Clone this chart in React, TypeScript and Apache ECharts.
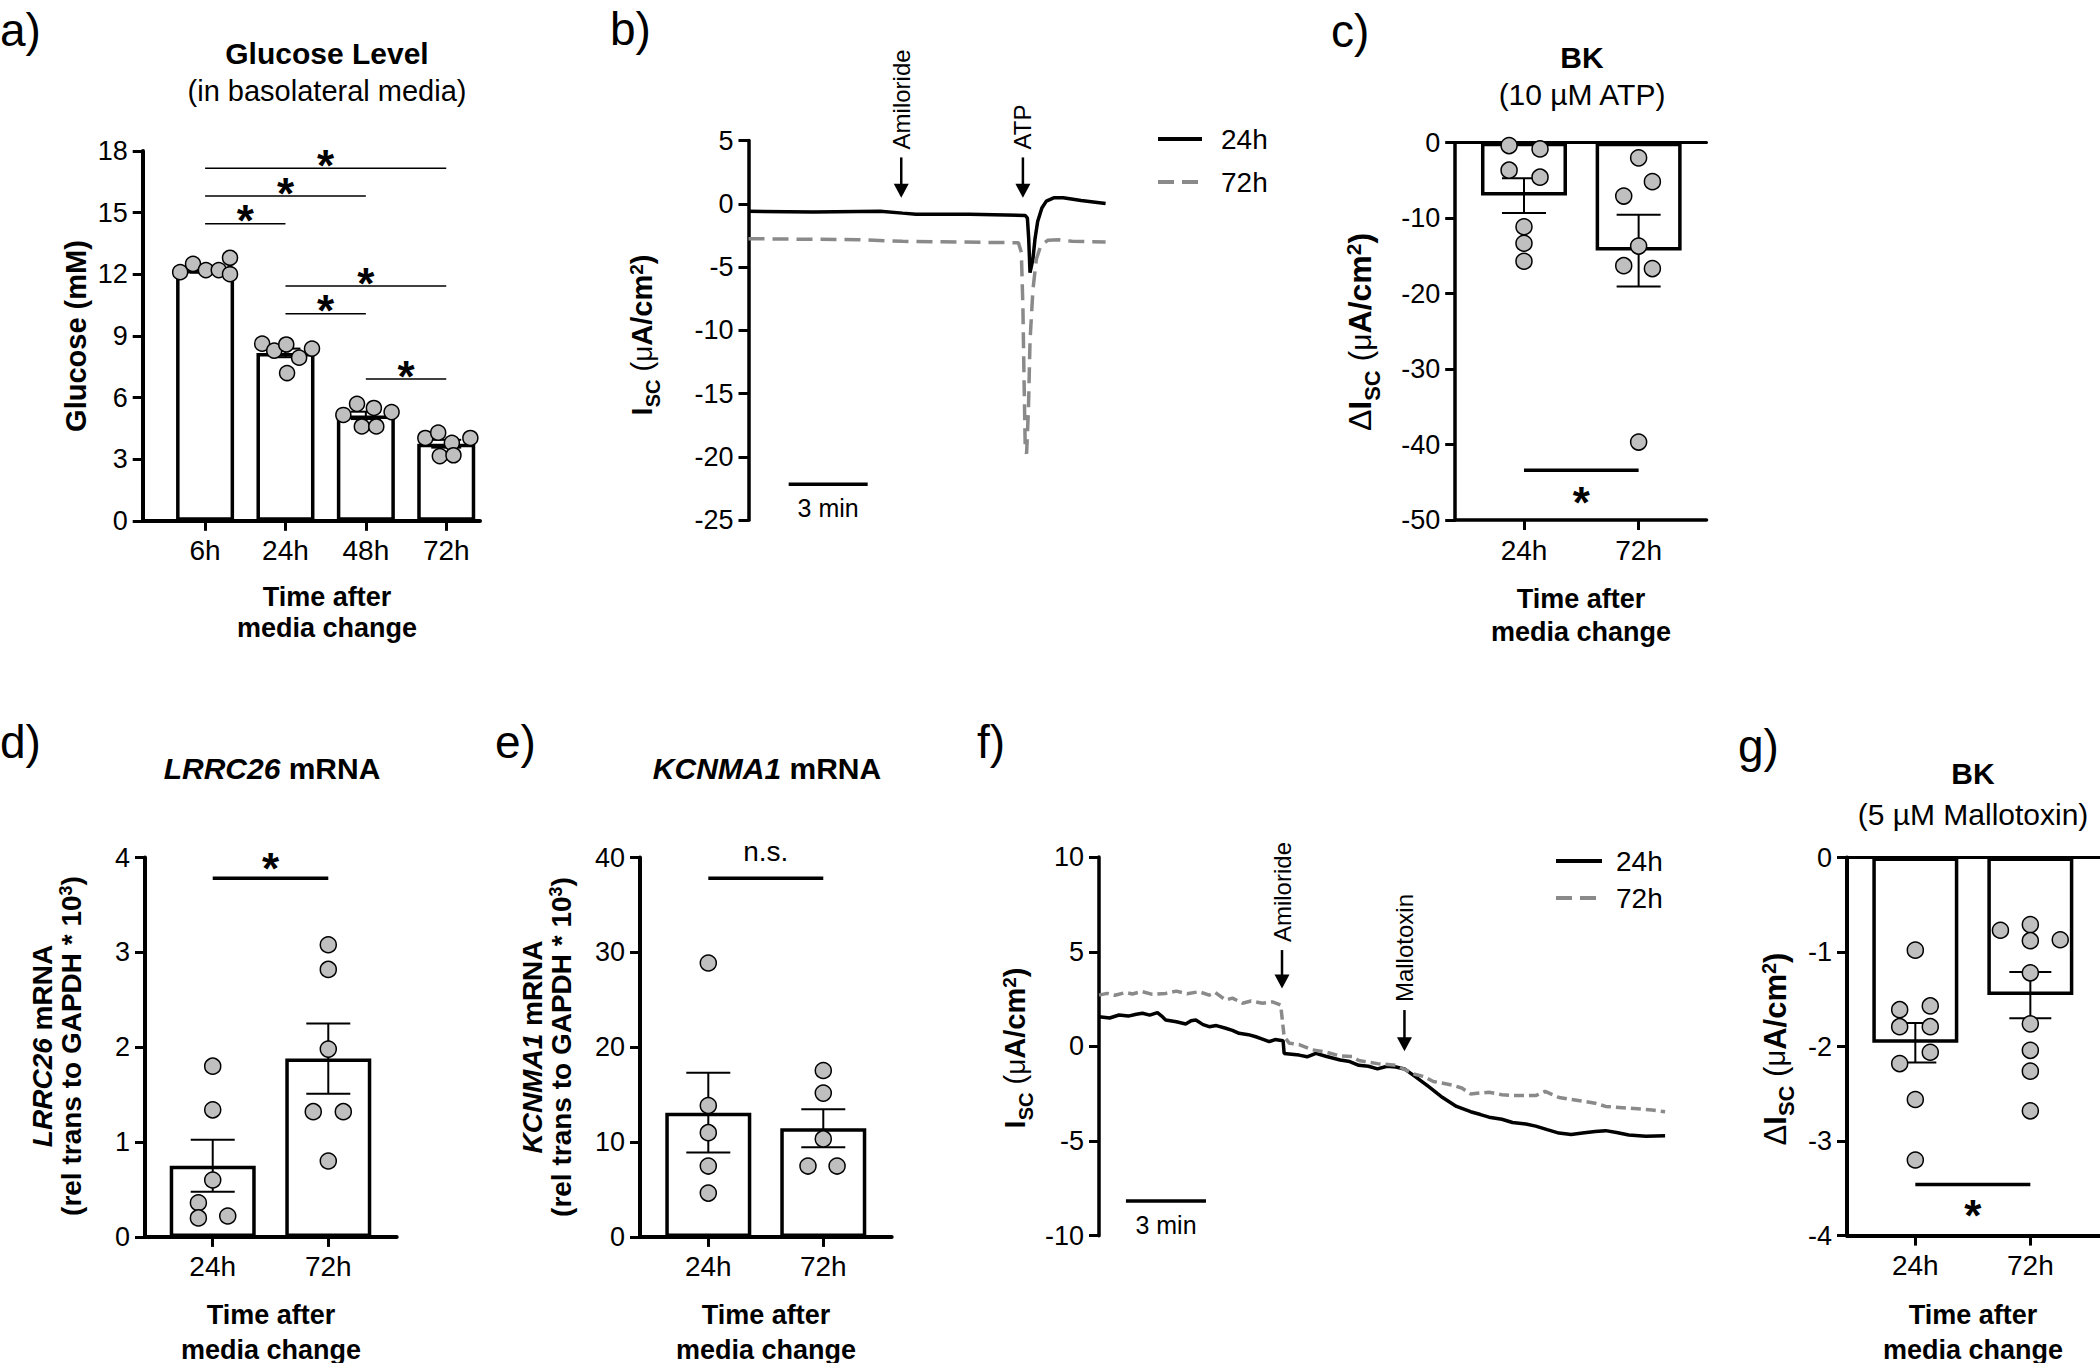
import React, { useEffect, useRef } from 'react';
import * as echarts from 'echarts';

const FONT = '"Liberation Sans", Arial, Helvetica, sans-serif';
const BLACK = '#000';
const DOT = '#bfbfbf';
const GRAY_LINE = '#8a8a8a';

// ---------------- data ----------------
// a) Glucose level
const glucoseCats = ['6h', '24h', '48h', '72h'];
const glucoseMean = [12.2, 8.17, 5.13, 3.75];
const glucoseSem = [0.12, 0.21, 0.18, 0.19];
const glucoseDots = [
  [-0.31, 12.1], [-0.15, 12.5], [0.01, 12.2], [0.17, 12.2], [0.31, 12.8], [0.31, 12.0],
  [0.71, 8.62], [0.86, 8.28], [1.01, 8.58], [1.02, 7.19], [1.17, 7.94], [1.33, 8.38],
  [1.72, 5.15], [1.89, 5.69], [1.95, 4.59], [2.1, 5.49], [2.13, 4.59], [2.32, 5.29],
  [2.74, 4.03], [2.9, 4.29], [2.92, 3.15], [3.07, 3.79], [3.09, 3.19], [3.3, 4.03],
];
const glucoseSig = [
  [0, 3, 17.16, '*'], [0, 2, 15.8, '*'], [0, 1, 14.45, '*'],
  [1, 3, 11.42, '*'], [1, 2, 10.08, '*'], [2, 3, 6.9, '*'],
];

// b) ATP traces (minutes, uA/cm2)
const atpTrace24 = [
  [0, -0.59], [2.46, -0.65], [5.0, -0.59], [5.85, -0.73], [6.36, -0.81], [8.39, -0.81],
  [10.51, -0.92], [10.59, -1.13], [10.64, -2.75], [10.69, -5.44], [10.8, -4.37], [10.88, -2.75],
  [10.98, -1.4], [11.14, -0.32], [11.31, 0.22], [11.61, 0.49], [11.95, 0.49], [12.63, 0.27], [13.56, 0.03],
];
const atpTrace72 = [
  [0, -2.75], [4.15, -2.83], [5.85, -2.96], [10.25, -3.07], [10.36, -3.83], [10.42, -8.14],
  [10.46, -13.53], [10.51, -19.46], [10.56, -19.73], [10.63, -16.23], [10.69, -10.84], [10.8, -6.79],
  [10.93, -4.37], [11.1, -3.29], [11.36, -2.88], [11.78, -2.83], [12.29, -2.96], [13.56, -3.02],
];
const atpArrows = [[5.8, 3.67, 0.48, 'Amiloride'], [10.42, 3.67, 0.48, 'ATP']];
const atpScale = [[1.525, 4.525, -22.16, '3 min']];

// c) BK (10 uM ATP)
const bkAtpCats = ['24h', '72h'];
const bkAtpMean = [-7.0, -14.3];
const bkAtpSem = [2.3, 4.75];
const bkAtpDots = [
  [-0.13, -0.38], [0.14, -0.82], [-0.13, -3.64], [0.14, -4.57], [0, -11.14], [0, -13.32], [0, -15.71],
  [1, -2.01], [1.12, -5.16], [0.87, -7.07], [1, -13.7], [0.87, -16.3], [1.12, -16.68], [1, -39.67],
];
const bkAtpSig = [[0, 1, -43.4, '*']];

// d) LRRC26 mRNA
const lrrcCats = ['24h', '72h'];
const lrrcMean = [0.75, 1.88];
const lrrcSem = [0.275, 0.37];
const lrrcDots = [
  [0, 1.8], [0, 1.34], [0, 0.6], [-0.124, 0.36], [-0.124, 0.2], [0.13, 0.22],
  [1, 3.08], [1, 2.82], [1, 1.98], [0.87, 1.32], [1.13, 1.32], [1, 0.8],
];
const lrrcSig = [[0, 1, 3.78, '*']];

// e) KCNMA1 mRNA
const kcnCats = ['24h', '72h'];
const kcnMean = [13.1, 11.45];
const kcnSem = [4.2, 2.0];
const kcnDots = [
  [0, 28.88], [0, 13.85], [0, 10.99], [0, 7.47], [0, 4.62],
  [1, 17.54], [1, 15.16], [1, 10.33], [0.867, 7.47], [1.12, 7.47],
];
const kcnSig = [[0, 1, 37.8, 'n.s.']];

// f) Mallotoxin traces
const malTrace24 = [
  [0, 1.57], [0.4, 1.5], [0.75, 1.66], [1.1, 1.6], [1.4, 1.7], [1.63, 1.75], [1.9, 1.65], [2.19, 1.78],
  [2.35, 1.6], [2.5, 1.39], [2.9, 1.3], [3.25, 1.18], [3.45, 1.35], [3.63, 1.39], [3.9, 1.15],
  [4.13, 1.04], [4.4, 1.1], [4.75, 0.96], [5.0, 0.85], [5.25, 0.69], [5.6, 0.62], [5.88, 0.51],
  [6.1, 0.4], [6.38, 0.25], [6.6, 0.36], [6.9, 0.3], [6.94, -0.37], [7.5, -0.46], [7.8, -0.55],
  [8.13, -0.37], [8.5, -0.52], [9.04, -0.72], [9.4, -0.8], [9.74, -1.0], [10.1, -1.05], [10.44, -1.19],
  [10.8, -1.05], [11.13, -1.09], [11.45, -1.19], [11.83, -1.57], [12.36, -2.13], [12.88, -2.7],
  [13.4, -3.17], [13.93, -3.45], [14.3, -3.6], [14.62, -3.74], [15.1, -3.85], [15.5, -4.02],
  [16.0, -4.1], [16.37, -4.21], [16.8, -4.4], [17.24, -4.58], [17.7, -4.65], [18.12, -4.58],
  [18.6, -4.5], [18.99, -4.45], [19.4, -4.55], [19.86, -4.68], [20.5, -4.75], [21.22, -4.72],
];
const malTrace72 = [
  [0, 2.71], [0.3, 2.8], [0.6, 2.7], [1.0, 2.85], [1.25, 2.77], [1.6, 2.9], [2.0, 2.75], [2.5, 2.8],
  [2.9, 2.92], [3.3, 2.78], [3.75, 2.89], [4.13, 2.71], [4.35, 2.85], [4.75, 2.45], [5.0, 2.55],
  [5.38, 2.28], [5.7, 2.4], [6.13, 2.28], [6.5, 2.35], [6.81, 2.19], [6.94, 0.52], [7.13, 0.17],
  [7.5, 0.1], [8.0, -0.18], [8.5, -0.3], [9.04, -0.5], [9.5, -0.53], [9.74, -0.75], [10.44, -0.91],
  [11.13, -1.0], [11.83, -1.47], [12.2, -1.6], [12.53, -1.85], [13.23, -2.04], [13.6, -2.2],
  [13.93, -2.51], [14.62, -2.42], [15.1, -2.55], [15.5, -2.6], [16.37, -2.6], [16.72, -2.38],
  [17.24, -2.7], [18.12, -2.89], [18.6, -3.0], [18.99, -3.17], [19.86, -3.26], [20.73, -3.36], [21.22, -3.45],
];
const malArrows = [[6.86, 5.09, 3.06, 'Amiloride'], [11.45, 1.92, -0.25, 'Mallotoxin']];
const malScale = [[1.01, 4.01, -8.17, '3 min']];

// g) BK (5 uM Mallotoxin)
const bkMalCats = ['24h', '72h'];
const bkMalMean = [-1.96, -1.455];
const bkMalSem = [0.21, 0.245];
const bkMalDots = [
  [0, -0.98], [-0.136, -1.61], [0.13, -1.57], [-0.136, -1.79], [0.13, -1.79], [0.13, -2.06],
  [-0.136, -2.18], [0, -2.56], [0, -3.2],
  [0.74, -0.77], [1, -0.71], [1, -0.88], [1.26, -0.87], [1, -1.22], [1, -1.76], [1, -2.04],
  [1, -2.26], [1, -2.68],
];
const bkMalSig = [[0, 1, -3.46, '*']];

// ---------------- helpers ----------------
function catX(gi: number, cats: string[], min: number, max: number, lw: number): any {
  const vals = cats.map((_, i) => i);
  return {
    type: 'value', gridIndex: gi, min, max, position: 'bottom',
    axisLine: { show: true, onZero: false, lineStyle: { color: BLACK, width: lw } },
    axisTick: { show: true, customValues: vals, length: 10, lineStyle: { color: BLACK, width: 3 } },
    axisLabel: {
      show: true, customValues: vals, color: BLACK, fontSize: 28, fontFamily: FONT, margin: 16,
      formatter: (v: number) => (cats[Math.round(v)] ?? ''),
    },
    splitLine: { show: false },
  };
}
function topX(gi: number, min: number, max: number): any {
  return {
    type: 'value', gridIndex: gi, min, max, position: 'top',
    axisLine: { show: true, onZero: false, lineStyle: { color: BLACK, width: 3 } },
    axisTick: { show: false }, axisLabel: { show: false }, splitLine: { show: false },
  };
}
function hiddenX(gi: number, min: number, max: number): any {
  return { type: 'value', gridIndex: gi, min, max, show: false, splitLine: { show: false } };
}
function valY(gi: number, min: number, max: number, interval: number, lw: number): any {
  return {
    type: 'value', gridIndex: gi, min, max, interval,
    axisLine: { show: true, onZero: false, lineStyle: { color: BLACK, width: lw } },
    axisTick: { show: true, length: 10, lineStyle: { color: BLACK, width: 3 } },
    axisLabel: { color: BLACK, fontSize: 27, fontFamily: FONT, margin: 15 },
    splitLine: { show: false },
  };
}
function barSeries(xi: number, yi: number, mean: number[], width: number): any {
  return {
    type: 'bar', xAxisIndex: xi, yAxisIndex: yi, z: 2, silent: true,
    data: mean.map((m, i) => [i, m]), barWidth: width,
    itemStyle: { color: '#fff', borderColor: BLACK, borderWidth: 3.5 },
  };
}
function dotSeries(xi: number, yi: number, pts: number[][], size: number): any {
  return {
    type: 'scatter', xAxisIndex: xi, yAxisIndex: yi, z: 4, silent: true, data: pts,
    symbolSize: size, itemStyle: { color: DOT, borderColor: BLACK, borderWidth: 1.5, opacity: 1 },
  };
}
function errorSeries(xi: number, yi: number, mean: number[], sem: number[], cap: number): any {
  return {
    type: 'custom', xAxisIndex: xi, yAxisIndex: yi, z: 3, silent: true,
    data: mean.map((m, i) => [i, m, sem[i]]),
    renderItem: (_p: any, api: any) => {
      const x = api.value(0), m = api.value(1), s = api.value(2);
      const hi = api.coord([x, m + s]);
      const lo = api.coord([x, m - s]);
      const st = { stroke: BLACK, lineWidth: 2 };
      return {
        type: 'group', children: [
          { type: 'line', shape: { x1: hi[0], y1: hi[1], x2: lo[0], y2: lo[1] }, style: st },
          { type: 'line', shape: { x1: hi[0] - cap / 2, y1: hi[1], x2: hi[0] + cap / 2, y2: hi[1] }, style: st },
          { type: 'line', shape: { x1: lo[0] - cap / 2, y1: lo[1], x2: lo[0] + cap / 2, y2: lo[1] }, style: st },
        ],
      };
    },
  };
}
function txtStyle(t: string, size: number, weight: string, align: string, extra: any = {}) {
  return {
    text: t, fill: BLACK, fontFamily: FONT, fontSize: size, fontWeight: weight,
    textAlign: align, align, textVerticalAlign: 'middle', verticalAlign: 'middle', ...extra,
  };
}
function sigSeries(xi: number, yi: number, items: any[], lw: number, dy: number): any {
  return {
    type: 'custom', xAxisIndex: xi, yAxisIndex: yi, z: 5, silent: true,
    data: items.map((it) => [it[0], it[2], it[1]]),
    renderItem: (params: any, api: any) => {
      const it = items[params.dataIndex];
      const a = api.coord([it[0], it[2]]);
      const b = api.coord([it[1], it[2]]);
      const star = it[3] === '*';
      return {
        type: 'group', children: [
          { type: 'line', shape: { x1: a[0], y1: a[1], x2: b[0], y2: b[1] }, style: { stroke: BLACK, lineWidth: lw } },
          {
            type: 'text', x: (a[0] + b[0]) / 2, y: a[1] + dy,
            style: txtStyle(it[3], star ? 44 : 28, star ? 'bold' : 'normal', 'center'),
          },
        ],
      };
    },
  };
}
function arrowSeries(xi: number, yi: number, items: any[]): any {
  return {
    type: 'custom', xAxisIndex: xi, yAxisIndex: yi, z: 5, silent: true,
    data: items.map((it) => [it[0], it[1], it[2]]),
    renderItem: (params: any, api: any) => {
      const it = items[params.dataIndex];
      const top = api.coord([it[0], it[1]]);
      const tip = api.coord([it[0], it[2]]);
      const hw = 7.5, hh = 14;
      return {
        type: 'group', children: [
          { type: 'line', shape: { x1: top[0], y1: top[1], x2: tip[0], y2: tip[1] - hh + 1 }, style: { stroke: BLACK, lineWidth: 2.5 } },
          { type: 'polygon', shape: { points: [[tip[0] - hw, tip[1] - hh], [tip[0] + hw, tip[1] - hh], [tip[0], tip[1]]] }, style: { fill: BLACK } },
          { type: 'text', x: top[0], y: top[1] - 8, rotation: Math.PI / 2, style: txtStyle(it[3], 24, 'normal', 'left') },
        ],
      };
    },
  };
}
function scaleSeries(xi: number, yi: number, items: any[]): any {
  return {
    type: 'custom', xAxisIndex: xi, yAxisIndex: yi, z: 5, silent: true,
    data: items.map((it) => [it[0], it[2], it[1]]),
    renderItem: (params: any, api: any) => {
      const it = items[params.dataIndex];
      const a = api.coord([it[0], it[2]]);
      const b = api.coord([it[1], it[2]]);
      return {
        type: 'group', children: [
          { type: 'line', shape: { x1: a[0], y1: a[1], x2: b[0], y2: b[1] }, style: { stroke: BLACK, lineWidth: 3.5 } },
          { type: 'text', x: (a[0] + b[0]) / 2, y: a[1] + 24, style: txtStyle(it[3], 25, 'normal', 'center') },
        ],
      };
    },
  };
}
function lineSeries(name: string, xi: number, yi: number, data: number[][], dash: number[]): any {
  const dashed = name === '72h';
  return {
    type: 'line', name, xAxisIndex: xi, yAxisIndex: yi, data, z: 3, silent: true,
    showSymbol: false, symbol: 'none',
    lineStyle: { color: dashed ? GRAY_LINE : BLACK, width: 3.5, type: dashed ? dash : 'solid' },
    itemStyle: { color: dashed ? GRAY_LINE : BLACK },
  };
}

// text helpers (graphic)
function T(t: string, x: number, y: number, size: number, weight: string, opt: any = {}): any {
  const align = opt.align || 'center';
  return {
    type: 'text', x, y, rotation: opt.rotation || 0, silent: true, z: 10,
    style: txtStyle(t, size, weight, align, opt.rich ? { rich: opt.rich } : {}),
  };
}
function tok(size: number, weight: string, extra: any = {}) {
  return { fontSize: size, fontWeight: weight, fontFamily: FONT, fill: BLACK, color: BLACK, ...extra };
}
function iscRich(base: number) {
  const lh = Math.round(base * 1.45);
  const mid = { verticalAlign: 'middle', lineHeight: lh };
  const sup = Math.round(base * 0.65);
  return {
    d: tok(base, 'normal', mid),
    i: tok(base, 'bold', mid),
    s: tok(Math.round(base * 0.7), 'bold', { verticalAlign: 'bottom', lineHeight: Math.round(base * 0.8) }),
    p: tok(base, 'normal', mid),
    m: tok(Math.round(base * 0.95), 'normal', mid),
    b: tok(base, 'bold', mid),
    u: tok(sup, 'bold', { verticalAlign: 'top', lineHeight: sup, padding: [Math.round(base * 0.2), 0, 0, 0] }),
  };
}
const iscText = (delta: boolean) => `${delta ? '{d|Δ}' : ''}{i|I}{s|SC}{p| (}{m|μ}{b|A/cm}{u|2}{b|)}`;
function geneRich(base: number, lh: number) {
  return {
    it: tok(base, 'bold', { fontStyle: 'italic', lineHeight: lh }),
    bb: tok(base, 'bold', { lineHeight: lh }),
    up: tok(Math.round(base * 0.65), 'bold', { verticalAlign: 'top', lineHeight: lh }),
  };
}
function xName(x: number, y: number, lh: number) {
  return {
    type: 'text', x, y, silent: true, z: 10,
    style: txtStyle('{n|Time after}\n{n|media change}', 27, 'bold', 'center', {
      rich: { n: tok(27, 'bold', { lineHeight: lh }) },
    }),
  };
}

const R90 = Math.PI / 2;
const graphics: any[] = [
  // panel letters
  T('a)', 0, 30, 46, 'normal', { align: 'left' }),
  T('b)', 610, 29, 46, 'normal', { align: 'left' }),
  T('c)', 1331, 31, 46, 'normal', { align: 'left' }),
  T('d)', 0, 742, 46, 'normal', { align: 'left' }),
  T('e)', 495, 742, 46, 'normal', { align: 'left' }),
  T('f)', 977, 742, 46, 'normal', { align: 'left' }),
  T('g)', 1738, 746, 46, 'normal', { align: 'left' }),
  // a
  T('Glucose Level', 327, 53, 30, 'bold'),
  T('(in basolateral media)', 327, 91, 29, 'normal'),
  T('Glucose (mM)', 76, 336, 29, 'bold', { rotation: R90 }),
  xName(327, 612, 31),
  // b
  T(iscText(false), 642, 335, 29, 'bold', { rotation: R90, rich: iscRich(29) }),
  // c
  T('BK', 1582, 57, 30, 'bold'),
  T('(10 µM ATP)', 1582, 94, 30, 'normal'),
  T(iscText(true), 1360, 332, 32, 'bold', { rotation: R90, rich: iscRich(32) }),
  xName(1581, 615, 33),
  // d
  T('{it|LRRC26}{bb| mRNA}', 272, 768, 30, 'bold', { rich: geneRich(30, 32) }),
  T('{it|LRRC26}{bb| mRNA}\n{bb|(rel trans to GAPDH * 10}{up|3}{bb|)}', 57, 1046, 28, 'bold', { rotation: R90, rich: geneRich(28, 29) }),
  xName(271, 1332, 35),
  // e
  T('{it|KCNMA1}{bb| mRNA}', 767, 768, 30, 'bold', { rich: geneRich(30, 32) }),
  T('{it|KCNMA1}{bb| mRNA}\n{bb|(rel trans to GAPDH * 10}{up|3}{bb|)}', 547, 1047, 28, 'bold', { rotation: R90, rich: geneRich(28, 29) }),
  xName(766, 1332, 35),
  // f
  T(iscText(false), 1015, 1048, 29, 'bold', { rotation: R90, rich: iscRich(29) }),
  // g
  T('BK', 1973, 773, 30, 'bold'),
  T('(5 µM Mallotoxin)', 1973, 814, 30, 'normal'),
  T(iscText(true), 1775, 1049, 31, 'bold', { rotation: R90, rich: iscRich(31) }),
  xName(1973, 1332, 35),
];

const legendText = { fontSize: 28, fontFamily: FONT, color: BLACK };
const legendHiddenSymbol = { opacity: 0, borderWidth: 0 };
const legendLine = { width: 4 };

const option: any = {
  animation: false,
  backgroundColor: '#fff',
  textStyle: { fontFamily: FONT, color: BLACK },
  grid: [
    { left: 142.7, top: 150.9, width: 337.3, height: 369.9 }, // a
    { left: 748.5, top: 140.6, width: 357.1, height: 379.7 }, // b
    { left: 1455.2, top: 142.7, width: 251.3, height: 377.3 }, // c
    { left: 145, top: 857.5, width: 251.7, height: 379.4 }, // d
    { left: 640, top: 857.5, width: 251.7, height: 379.4 }, // e
    { left: 1099, top: 857.1, width: 566.1, height: 378.6 }, // f
    { left: 1847, top: 857.5, width: 252.7, height: 378.1 }, // g
  ],
  xAxis: [
    catX(0, glucoseCats, -0.776, 3.42, 4), // 0 a
    hiddenX(1, 0, 13.56), // 1 b
    catX(2, bkAtpCats, -0.6, 1.592, 3.5), // 2 c
    topX(2, -0.6, 1.592), // 3 c top
    catX(3, lrrcCats, -0.586, 1.592, 4), // 4 d
    catX(4, kcnCats, -0.594, 1.595, 4), // 5 e
    hiddenX(5, 0, 21.22), // 6 f
    catX(6, bkMalCats, -0.594, 1.603, 4), // 7 g
    topX(6, -0.594, 1.603), // 8 g top
  ],
  yAxis: [
    valY(0, 0, 18, 3, 4),
    valY(1, -25, 5, 5, 3.5),
    valY(2, -50, 0, 10, 3.5),
    valY(3, 0, 4, 1, 4),
    valY(4, 0, 40, 10, 4),
    valY(5, -10, 10, 5, 3.5),
    valY(6, -4, 0, 1, 4),
  ],
  legend: [
    {
      data: ['24h', '72h'], orient: 'vertical', left: 1151, top: 120, itemWidth: 44, itemHeight: 14,
      itemGap: 15, selectedMode: false, itemStyle: legendHiddenSymbol, lineStyle: legendLine,
      textStyle: { ...legendText, padding: [0, 0, 0, 14] },
    },
    {
      data: ['24h', '72h'], orient: 'vertical', left: 1549, top: 842, itemWidth: 46, itemHeight: 14,
      itemGap: 9, selectedMode: false, itemStyle: legendHiddenSymbol, lineStyle: legendLine,
      textStyle: { ...legendText, padding: [0, 0, 0, 9] },
    },
  ],
  graphic: graphics,
  series: [
    // a
    barSeries(0, 0, glucoseMean, 58),
    errorSeries(0, 0, glucoseMean, glucoseSem, 30),
    dotSeries(0, 0, glucoseDots, 15),
    sigSeries(0, 0, glucoseSig, 1.5, -3),
    // b
    lineSeries('24h', 1, 1, atpTrace24, [16, 8]),
    lineSeries('72h', 1, 1, atpTrace72, [16, 8]),
    arrowSeries(1, 1, atpArrows),
    scaleSeries(1, 1, atpScale),
    // c
    barSeries(2, 2, bkAtpMean, 86),
    errorSeries(2, 2, bkAtpMean, bkAtpSem, 44),
    dotSeries(2, 2, bkAtpDots, 16),
    sigSeries(2, 2, bkAtpSig, 3.5, 32),
    // d
    barSeries(4, 3, lrrcMean, 86),
    errorSeries(4, 3, lrrcMean, lrrcSem, 44),
    dotSeries(4, 3, lrrcDots, 16),
    sigSeries(4, 3, lrrcSig, 3.5, -10),
    // e
    barSeries(5, 4, kcnMean, 86),
    errorSeries(5, 4, kcnMean, kcnSem, 44),
    dotSeries(5, 4, kcnDots, 16),
    sigSeries(5, 4, kcnSig, 3.5, -27),
    // f
    lineSeries('24h', 6, 5, malTrace24, [10, 5]),
    lineSeries('72h', 6, 5, malTrace72, [10, 5]),
    arrowSeries(6, 5, malArrows),
    scaleSeries(6, 5, malScale),
    // g
    barSeries(7, 6, bkMalMean, 86),
    errorSeries(7, 6, bkMalMean, bkMalSem, 42),
    dotSeries(7, 6, bkMalDots, 16),
    sigSeries(7, 6, bkMalSig, 3.5, 31),
  ],
};

export default function App() {
  const ref = useRef<HTMLDivElement>(null);
  useEffect(() => {
    if (!ref.current) return;
    const chart = echarts.init(ref.current, null, { renderer: 'svg' });
    chart.setOption(option);
    return () => chart.dispose();
  }, []);
  return (
    <div
      ref={ref}
      style={{ position: 'absolute', left: 0, top: 0, width: 2100, height: 1363, background: '#fff' }}
    />
  );
}
